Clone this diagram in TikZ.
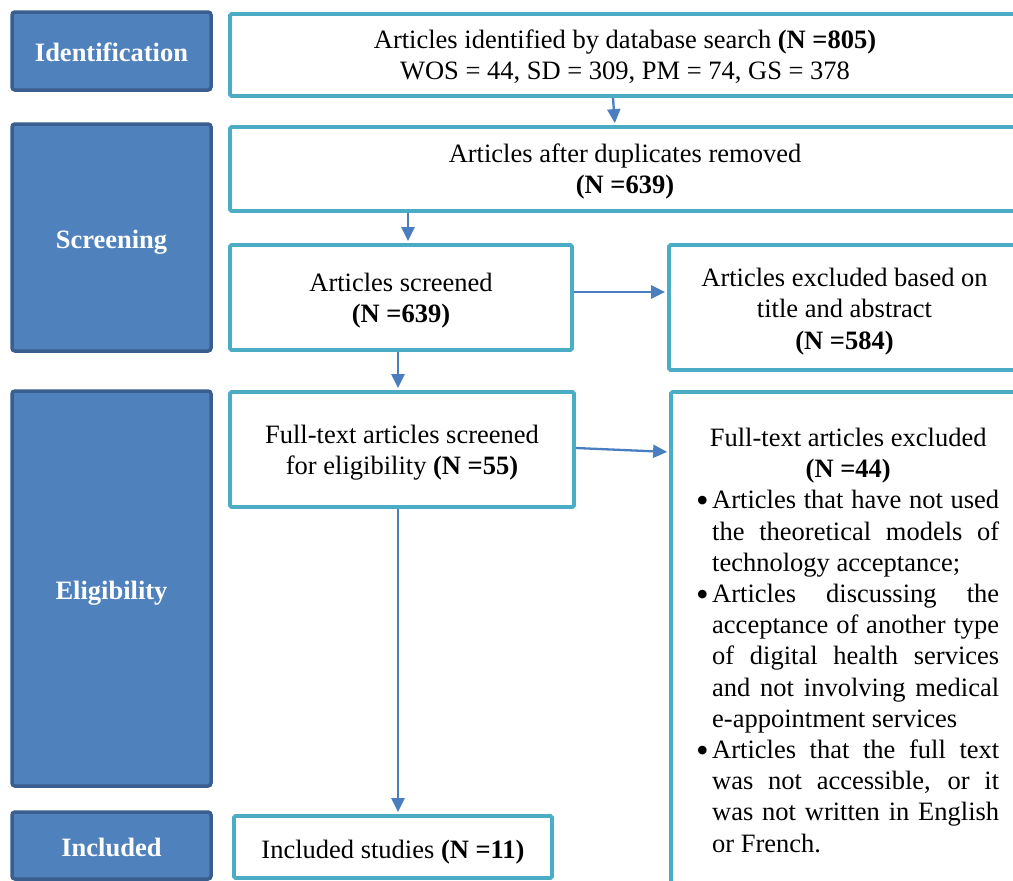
\documentclass[tikz,border=0pt]{standalone}
\usepackage{fontspec}
\setmainfont{Liberation Serif}
\usetikzlibrary{arrows.meta}
\definecolor{phasefill}{HTML}{4F81BD}
\definecolor{phaseline}{HTML}{3A5F8E}
\definecolor{teal}{HTML}{4BACC6}
\definecolor{arrowc}{HTML}{4A7EBF}
\newcommand{\bodyfont}{\fontsize{26.5}{31.2}\selectfont}
\newcommand{\tstrut}[1]{\rule{0pt}{#1}}
\newcommand{\bigbul}{\makebox[15pt][l]{\hspace*{-1pt}\raisebox{-3.5pt}{\fontsize{36}{31.2}\selectfont\textbullet}}}
\newcommand{\bulline}[1]{\bigbul\makebox[287pt][s]{#1}}
\newcommand{\jline}[1]{\hspace*{15pt}\makebox[287pt][s]{#1}}
\newcommand{\lastline}[1]{\hspace*{15pt}#1}
\tikzset{
  phase/.style={draw=phaseline, fill=phasefill, line width=3.5pt, rounded corners=3pt,
    text=white, font=\bodyfont\bfseries, minimum width=199pt, inner sep=0pt, align=center,
    text height=21pt, text depth=0pt},
  stagebox/.style={draw=teal, fill=white, line width=3.8pt, rounded corners=1.5pt,
    inner sep=0pt, align=center, font=\bodyfont},
  arr/.style={draw=arrowc, line width=2.3pt, shorten >=2pt,
    -{Triangle[length=14pt,width=13pt]}}
}
\begin{document}
\begin{tikzpicture}[x=1pt,y=-1pt]
\useasboundingbox (0,0) rectangle (1013,881);
\clip (0,0) rectangle (1013,881);
\fill[white] (0,0) rectangle (1013,881);
% phase boxes
\node[phase, minimum height=78pt] (id) at (111.5,51) {Identification};
\node[phase, minimum height=227pt] (scr) at (111.5,237.5) {Screening};
\node[phase, minimum height=395pt] (eli) at (111.5,588.5) {Eligibility};
\node[phase, minimum height=67pt] (inc) at (111.5,845.5) {Included};
% stage boxes
\node[stagebox, minimum width=790pt, minimum height=82pt] (b1) at (625,55)
  {\tstrut{21.4pt}Articles identified by database search \textbf{(N =805)}\\WOS = 44, SD = 309, PM = 74, GS = 378};
\node[stagebox, minimum width=790pt, minimum height=84pt] (b2) at (625,169)
  {\tstrut{24.4pt}Articles after duplicates removed\\\textbf{(N =639)}};
\node[stagebox, minimum width=342pt, minimum height=105pt] (b3) at (401,297.5)
  {\tstrut{25.4pt}Articles screened\\\textbf{(N =639)}};
\node[stagebox, minimum width=351pt, minimum height=125pt] (b4) at (844.5,307.5)
  {\tstrut{26.4pt}Articles excluded based on\\title and abstract\\\textbf{(N =584)}};
\node[stagebox, minimum width=344pt, minimum height=115pt] (b5) at (402,449.5)
  {\tstrut{24.4pt}Full-text articles screened\\for eligibility \textbf{(N =55)}};
\node[stagebox, minimum width=349pt, minimum height=508pt] (b6) at (845.5,646) {};
\node[stagebox, minimum width=318pt, minimum height=62pt] (b7) at (393,847)
  {\tstrut{28.4pt}Included studies \textbf{(N =11)}};
\node[anchor=north west, inner sep=0pt, align=left, font=\bodyfont] (b6t) at (697,428) {%
  \makebox[302pt][c]{Full-text articles excluded}\\
  \makebox[302pt][c]{\textbf{(N =44)}}\\
  \bulline{Articles that have not used}\\
  \jline{the theoretical models of}\\
  \lastline{technology acceptance;}\\
  \bulline{Articles discussing the}\\
  \jline{acceptance of another type}\\
  \jline{of digital health services}\\
  \jline{and not involving medical}\\
  \lastline{e-appointment services}\\
  \bulline{Articles that the full text}\\
  \jline{was not accessible, or it}\\
  \jline{was not written in English}\\
  \lastline{or French.}};
% arrows
\draw[arr] ([xshift=-12pt]b1.south) -- ([xshift=-10pt]b2.north);
\draw[arr] ([xshift=7pt]b3.north |- b2.south) -- ([xshift=7pt]b3.north);
\draw[arr] ([yshift=5.5pt]b3.east) -- ([yshift=5.5pt]b3.east -| b4.west);
\draw[arr] ([xshift=-3pt]b3.south) -- ([xshift=-3pt]b3.south |- b5.north);
\draw[arr] ([yshift=1.5pt]b5.east) -- ([yshift=-2.5pt]b5.east -| b6.west);
\draw[arr] ([xshift=-4pt]b5.south) -- ([xshift=-4pt]b5.south |- b7.north);
\end{tikzpicture}
\end{document}
